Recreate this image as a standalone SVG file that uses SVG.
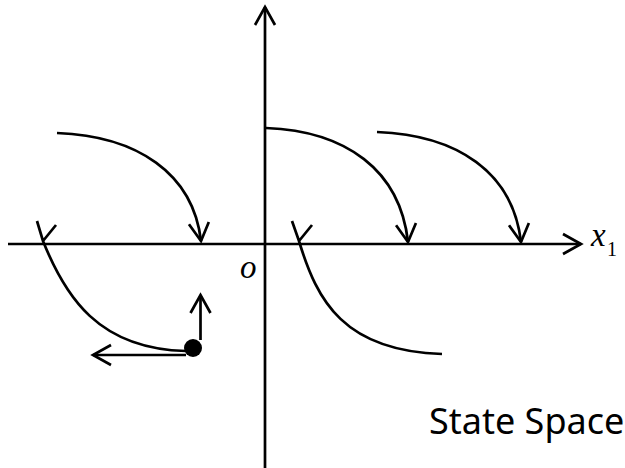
<svg xmlns="http://www.w3.org/2000/svg" width="625" height="468" viewBox="0 0 625 468">
<style>
.ln{fill:none;stroke:#000;stroke-width:2.7;stroke-linecap:butt;stroke-linejoin:miter}
.ar{marker-end:url(#ah)}
.it{font-family:"Liberation Serif","Times New Roman",serif;font-style:italic;fill:#000}
.rm{font-family:"Liberation Serif","Times New Roman",serif;fill:#000}
.lb{font-family:"Noto Sans","Open Sans",sans-serif;fill:#000}
</style>
<defs>
<marker id="ah" markerUnits="userSpaceOnUse" markerWidth="40" markerHeight="40" viewBox="-20 -20 40 40" refX="0" refY="0" orient="auto" overflow="visible">
<path d="M-18,-10 L0,0 L-18,10" fill="none" stroke="#000" stroke-width="2.7"/>
</marker>
</defs>
<rect width="625" height="468" fill="#fff"/>
<g id="axes">
<path class="ln ar" d="M8,244 L581,244"/>
<path class="ln ar" d="M265,468 L265,7"/>
</g>
<g id="connectors">
<path id="traj1" class="ln ar" d="M57,133 C137,136 193,173 201,241"/>
<path id="traj2" class="ln ar" d="M266,128 C346,131 400,170 408,242"/>
<path id="traj3" class="ln ar" d="M377,132 C457,135 513,172 521,242"/>
<path id="traj4" class="ln" d="M37,221 L43,241 C65,296 98,349 186,351 M56,225 L43,241"/>
<path id="traj5" class="ln" d="M292,221 L299,241 C317,301 344,351 442,354 M312,225 L299,241"/>
<path id="vel-x" class="ln ar" d="M186,355 L93,355"/>
<path id="vel-y" class="ln ar" d="M200.5,340 L200.5,295"/>
</g>
<g id="state-point">
<circle cx="193" cy="348" r="9" fill="#000"/>
</g>
<g id="labels">
<text class="it" x="240" y="278" font-size="33">o</text>
<text class="it" x="591" y="246" font-size="33">x</text>
<text class="rm" x="607" y="256" font-size="20">1</text>
<text class="lb" x="429" y="434" font-size="36">State Space</text>
</g>
</svg>
